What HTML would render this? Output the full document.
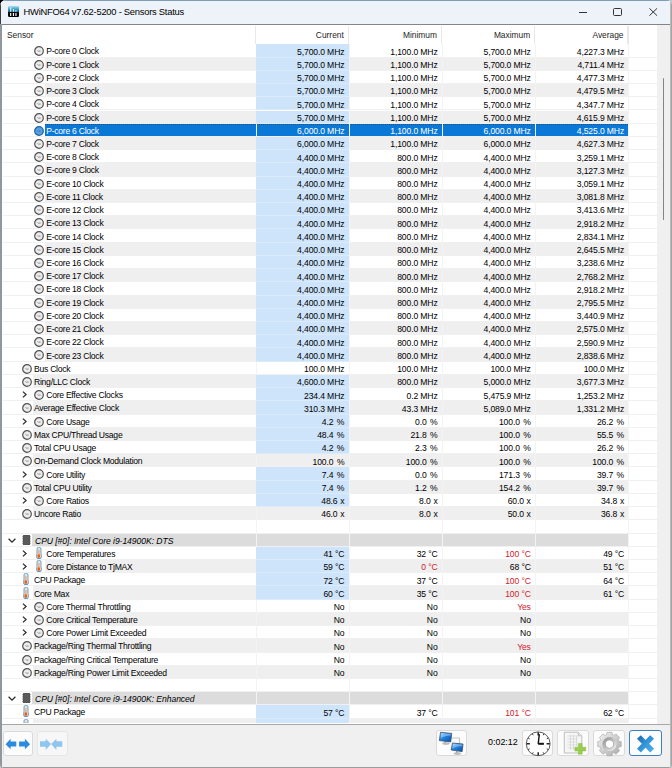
<!DOCTYPE html>
<html><head><meta charset="utf-8">
<style>
*{box-sizing:border-box}
html,body{margin:0;padding:0;width:672px;height:768px;overflow:hidden;background:#c4c4c4}
body{font-family:"Liberation Sans",sans-serif;color:#000;position:relative}
.a{position:absolute}
.win{position:absolute;left:0;top:0;width:672px;height:768px;background:#f0f0f0;border-radius:6px 5px 4px 4px;overflow:hidden}
.tb{position:absolute;left:0;top:0;width:672px;height:24px;background:#eef3f9;border-top:1px solid #7c9cb8}
.tt{position:absolute;left:23.6px;top:4.5px;font-size:9.4px;letter-spacing:-0.25px;line-height:14px;color:#000;white-space:nowrap}
.list{position:absolute;left:0;top:24px;width:672px;height:700.5px;background:#fff;border-top:1px solid #848484;border-bottom:1px solid #a8a8a8;overflow:hidden}
.hd{position:absolute;font-size:8.4px;line-height:12px;top:28.8px;white-space:nowrap;color:#1e1e1e}
.r{position:absolute;left:0;width:672px;height:13.225px}
.t{position:absolute;z-index:5;font-size:8.6px;letter-spacing:-0.26px;line-height:13px;white-space:nowrap;color:#000}
.v{position:absolute;z-index:5;font-size:8.6px;letter-spacing:-0.13px;line-height:13px;white-space:nowrap;text-align:right;color:#000}
.red{color:#d4202a}
.sel .t,.sel .v{color:#fff}
.gl{position:absolute;left:3px;width:654px;height:1px;background:#f0f0f0}
.r>.gl{z-index:0}
.vg{position:absolute;top:44.4px;width:1px;height:680px;background:#f3f3f3;z-index:1}
.sec .t{font-style:italic;color:#000;letter-spacing:-0.06px}
</style></head><body>
<svg width="0" height="0" style="position:absolute">
<defs>
<symbol id="clk" viewBox="0 0 10 10"><circle cx="5" cy="5" r="4.3" fill="#ececec" stroke="#505050" stroke-width="1.2"/><path d="M3.5 4.5L4.3 5.1H6.6" fill="none" stroke="#7a7a7a" stroke-width="0.8"/></symbol>
<symbol id="clks" viewBox="0 0 10 10"><circle cx="5" cy="5" r="4.3" fill="#5aa0e0" stroke="#1f5f9f" stroke-width="1.2"/><path d="M3.5 4.5L4.3 5.1H6.6" fill="none" stroke="#2a6aaa" stroke-width="0.8"/></symbol>
<symbol id="thm" viewBox="0 0 6 12"><rect x="1" y="0.45" width="4" height="8" rx="1.5" fill="#cdeaf6" stroke="#7692a8" stroke-width="0.9"/><rect x="0.45" y="6.8" width="5.1" height="4.75" rx="2" fill="#cdeaf6" stroke="#7692a8" stroke-width="0.9"/><rect x="1.45" y="6.3" width="3.1" height="2" fill="#cdeaf6"/><rect x="2.1" y="3.0" width="1.6" height="5.5" fill="#f2b486"/><ellipse cx="2.8" cy="9.1" rx="1.5" ry="1.8" fill="#fa5a08"/><path d="M1.4 11.45H4.6" stroke="#4a90d0" stroke-width="0.8"/></symbol>
<symbol id="chip" viewBox="0 0 9 10"><path d="M0 1.6H9M0 3.8H9M0 6.1H9M0 8.3H9" stroke="#8a8a8a" stroke-width="0.7"/><rect x="0.9" y="0" width="7.2" height="10" rx="0.8" fill="#505050"/><rect x="1.5" y="0.5" width="6" height="9" fill="#5a5a5a"/></symbol>
<symbol id="chr" viewBox="0 0 5 7"><path d="M0.9 0.6L4.1 3.5L0.9 6.4" fill="none" stroke="#2a2a2a" stroke-width="1.25"/></symbol>
<symbol id="chd" viewBox="0 0 8 5"><path d="M0.6 0.7L4 4.1L7.4 0.7" fill="none" stroke="#2a2a2a" stroke-width="1.25"/></symbol>
</defs></svg>
<div class="a" style="left:0;top:0;width:10px;height:10px;background:#000"></div>
<div class="win">

<div class="tb"></div>
<svg class="a" style="left:7.9px;top:6px" width="11.1" height="11" viewBox="0 0 11 11"><defs><linearGradient id="ig" x1="0" y1="0" x2="0" y2="1"><stop offset="0" stop-color="#b0dcec"/><stop offset="0.3" stop-color="#3a9ccc"/><stop offset="0.55" stop-color="#0f5f8f"/><stop offset="0.56" stop-color="#050505"/><stop offset="1" stop-color="#000"/></linearGradient></defs><rect x="0" y="0" width="11" height="11" rx="1.2" fill="url(#ig)"/><path d="M2.6 1.2V5.8M5.4 3V5.8M7.9 4V5.8" stroke="#d6f2ff" stroke-width="1.2"/><path d="M2.6 7V9.9M5.4 7V9.9M7.9 7V9.9" stroke="#f4f4f4" stroke-width="1.2"/></svg>
<div class="tt">HWiNFO64 v7.62-5200 - Sensors Status</div>
<div class="a" style="left:578.5px;top:11.6px;width:8.2px;height:1px;background:#333"></div>
<div class="a" style="left:613.2px;top:8.2px;width:8.4px;height:7.6px;border:1px solid #333;border-radius:1.5px"></div>
<svg class="a" style="left:649px;top:8px" width="8.5" height="8" viewBox="0 0 8.5 8"><path d="M0.4 0.3L8.1 7.7M8.1 0.3L0.4 7.7" stroke="#333" stroke-width="1"/></svg>
<div class="list"></div>
<div class="hd" style="left:7px">Sensor</div>
<div class="hd" style="left:255.5px;width:88.30px;text-align:right">Current</div>
<div class="hd" style="left:348.6px;width:88.40px;text-align:right">Minimum</div>
<div class="hd" style="left:441.8px;width:88.40px;text-align:right">Maximum</div>
<div class="hd" style="left:535.0px;width:88.50px;text-align:right">Average</div>
<div class="a" style="left:254.60px;top:26px;width:1.3px;height:18px;background:#e8e8e8"></div>
<div class="a" style="left:347.70px;top:26px;width:1.3px;height:18px;background:#e8e8e8"></div>
<div class="a" style="left:440.90px;top:26px;width:1.3px;height:18px;background:#e8e8e8"></div>
<div class="a" style="left:534.10px;top:26px;width:1.3px;height:18px;background:#e8e8e8"></div>
<div class="a" style="left:627.40px;top:26px;width:1.3px;height:18px;background:#e8e8e8"></div>
<div class="r" style="top:44.400px;height:13.220px;overflow:hidden">
<div class="a" style="left:256.0px;top:0;width:93.10px;height:13.220px;background:#cee4fa;z-index:2"></div>
<div class="a" style="left:256.0px;top:12.220px;width:93.10px;height:1px;background:#dcebfa;z-index:3"></div>
<svg class="a" style="left:34.0px;top:2.0px" width="10" height="10"><use href="#clk"/></svg>
<div class="t" style="left:46.2px;top:1.1px">P-core 0 Clock</div>
<div class="v" style="left:255.5px;width:88.90px;top:1.4px">5,700.0 MHz</div>
<div class="v" style="left:348.6px;width:89.00px;top:1.4px">1,100.0 MHz</div>
<div class="v" style="left:441.8px;width:89.00px;top:1.4px">5,700.0 MHz</div>
<div class="v" style="left:535.0px;width:89.10px;top:1.4px">4,227.3 MHz</div>
<div class="gl" style="top:12.220px"></div>
</div>
<div class="r" style="top:57.620px;height:13.220px;overflow:hidden">
<div class="a" style="left:45.2px;top:0;width:583.10px;height:13.220px;background:#efefef"></div>
<div class="a" style="left:256.0px;top:0;width:93.10px;height:13.220px;background:#cee4fa;z-index:2"></div>
<div class="a" style="left:256.0px;top:12.220px;width:93.10px;height:1px;background:#dcebfa;z-index:3"></div>
<svg class="a" style="left:34.0px;top:2.0px" width="10" height="10"><use href="#clk"/></svg>
<div class="t" style="left:46.2px;top:1.1px">P-core 1 Clock</div>
<div class="v" style="left:255.5px;width:88.90px;top:1.4px">5,700.0 MHz</div>
<div class="v" style="left:348.6px;width:89.00px;top:1.4px">1,100.0 MHz</div>
<div class="v" style="left:441.8px;width:89.00px;top:1.4px">5,700.0 MHz</div>
<div class="v" style="left:535.0px;width:89.10px;top:1.4px">4,711.4 MHz</div>
<div class="gl" style="top:12.220px"></div>
</div>
<div class="r" style="top:70.840px;height:13.220px;overflow:hidden">
<div class="a" style="left:256.0px;top:0;width:93.10px;height:13.220px;background:#cee4fa;z-index:2"></div>
<div class="a" style="left:256.0px;top:12.220px;width:93.10px;height:1px;background:#dcebfa;z-index:3"></div>
<svg class="a" style="left:34.0px;top:2.0px" width="10" height="10"><use href="#clk"/></svg>
<div class="t" style="left:46.2px;top:1.1px">P-core 2 Clock</div>
<div class="v" style="left:255.5px;width:88.90px;top:1.4px">5,700.0 MHz</div>
<div class="v" style="left:348.6px;width:89.00px;top:1.4px">1,100.0 MHz</div>
<div class="v" style="left:441.8px;width:89.00px;top:1.4px">5,700.0 MHz</div>
<div class="v" style="left:535.0px;width:89.10px;top:1.4px">4,477.3 MHz</div>
<div class="gl" style="top:12.220px"></div>
</div>
<div class="r" style="top:84.060px;height:13.220px;overflow:hidden">
<div class="a" style="left:45.2px;top:0;width:583.10px;height:13.220px;background:#efefef"></div>
<div class="a" style="left:256.0px;top:0;width:93.10px;height:13.220px;background:#cee4fa;z-index:2"></div>
<div class="a" style="left:256.0px;top:12.220px;width:93.10px;height:1px;background:#dcebfa;z-index:3"></div>
<svg class="a" style="left:34.0px;top:2.0px" width="10" height="10"><use href="#clk"/></svg>
<div class="t" style="left:46.2px;top:1.1px">P-core 3 Clock</div>
<div class="v" style="left:255.5px;width:88.90px;top:1.4px">5,700.0 MHz</div>
<div class="v" style="left:348.6px;width:89.00px;top:1.4px">1,100.0 MHz</div>
<div class="v" style="left:441.8px;width:89.00px;top:1.4px">5,700.0 MHz</div>
<div class="v" style="left:535.0px;width:89.10px;top:1.4px">4,479.5 MHz</div>
<div class="gl" style="top:12.220px"></div>
</div>
<div class="r" style="top:97.280px;height:13.220px;overflow:hidden">
<div class="a" style="left:256.0px;top:0;width:93.10px;height:13.220px;background:#cee4fa;z-index:2"></div>
<div class="a" style="left:256.0px;top:12.220px;width:93.10px;height:1px;background:#dcebfa;z-index:3"></div>
<svg class="a" style="left:34.0px;top:2.0px" width="10" height="10"><use href="#clk"/></svg>
<div class="t" style="left:46.2px;top:1.1px">P-core 4 Clock</div>
<div class="v" style="left:255.5px;width:88.90px;top:1.4px">5,700.0 MHz</div>
<div class="v" style="left:348.6px;width:89.00px;top:1.4px">1,100.0 MHz</div>
<div class="v" style="left:441.8px;width:89.00px;top:1.4px">5,700.0 MHz</div>
<div class="v" style="left:535.0px;width:89.10px;top:1.4px">4,347.7 MHz</div>
<div class="gl" style="top:12.220px"></div>
</div>
<div class="r" style="top:110.500px;height:13.220px;overflow:hidden">
<div class="a" style="left:45.2px;top:0;width:583.10px;height:13.220px;background:#efefef"></div>
<div class="a" style="left:256.0px;top:0;width:93.10px;height:13.220px;background:#cee4fa;z-index:2"></div>
<div class="a" style="left:256.0px;top:12.220px;width:93.10px;height:1px;background:#dcebfa;z-index:3"></div>
<svg class="a" style="left:34.0px;top:2.0px" width="10" height="10"><use href="#clk"/></svg>
<div class="t" style="left:46.2px;top:1.1px">P-core 5 Clock</div>
<div class="v" style="left:255.5px;width:88.90px;top:1.4px">5,700.0 MHz</div>
<div class="v" style="left:348.6px;width:89.00px;top:1.4px">1,100.0 MHz</div>
<div class="v" style="left:441.8px;width:89.00px;top:1.4px">5,700.0 MHz</div>
<div class="v" style="left:535.0px;width:89.10px;top:1.4px">4,615.9 MHz</div>
<div class="gl" style="top:12.220px"></div>
</div>
<div class="r sel" style="top:123.720px;height:13.220px;overflow:hidden">
<div class="a" style="left:45.2px;top:0;width:583.10px;height:12.220px;background:#0a78d6"></div>
<div class="a" style="left:45.2px;top:0;width:583.10px;height:1px;background:repeating-linear-gradient(90deg,#2a4e74 0 1px,#0a78d6 1px 2px)"></div>
<svg class="a" style="left:34.0px;top:2.0px" width="10" height="10"><use href="#clks"/></svg>
<div class="t" style="left:46.2px;top:1.1px">P-core 6 Clock</div>
<div class="v" style="left:255.5px;width:88.90px;top:1.4px">6,000.0 MHz</div>
<div class="v" style="left:348.6px;width:89.00px;top:1.4px">1,100.0 MHz</div>
<div class="v" style="left:441.8px;width:89.00px;top:1.4px">6,000.0 MHz</div>
<div class="v" style="left:535.0px;width:89.10px;top:1.4px">4,525.0 MHz</div>
<div class="gl" style="top:12.220px"></div>
</div>
<div class="r" style="top:136.940px;height:13.220px;overflow:hidden">
<div class="a" style="left:45.2px;top:0;width:583.10px;height:13.220px;background:#efefef"></div>
<div class="a" style="left:256.0px;top:0;width:93.10px;height:13.220px;background:#cee4fa;z-index:2"></div>
<div class="a" style="left:256.0px;top:12.220px;width:93.10px;height:1px;background:#dcebfa;z-index:3"></div>
<svg class="a" style="left:34.0px;top:2.0px" width="10" height="10"><use href="#clk"/></svg>
<div class="t" style="left:46.2px;top:1.1px">P-core 7 Clock</div>
<div class="v" style="left:255.5px;width:88.90px;top:1.4px">6,000.0 MHz</div>
<div class="v" style="left:348.6px;width:89.00px;top:1.4px">1,100.0 MHz</div>
<div class="v" style="left:441.8px;width:89.00px;top:1.4px">6,000.0 MHz</div>
<div class="v" style="left:535.0px;width:89.10px;top:1.4px">4,627.3 MHz</div>
<div class="gl" style="top:12.220px"></div>
</div>
<div class="r" style="top:150.160px;height:13.220px;overflow:hidden">
<div class="a" style="left:256.0px;top:0;width:93.10px;height:13.220px;background:#cee4fa;z-index:2"></div>
<div class="a" style="left:256.0px;top:12.220px;width:93.10px;height:1px;background:#dcebfa;z-index:3"></div>
<svg class="a" style="left:34.0px;top:2.0px" width="10" height="10"><use href="#clk"/></svg>
<div class="t" style="left:46.2px;top:1.1px">E-core 8 Clock</div>
<div class="v" style="left:255.5px;width:88.90px;top:1.4px">4,400.0 MHz</div>
<div class="v" style="left:348.6px;width:89.00px;top:1.4px">800.0 MHz</div>
<div class="v" style="left:441.8px;width:89.00px;top:1.4px">4,400.0 MHz</div>
<div class="v" style="left:535.0px;width:89.10px;top:1.4px">3,259.1 MHz</div>
<div class="gl" style="top:12.220px"></div>
</div>
<div class="r" style="top:163.380px;height:13.220px;overflow:hidden">
<div class="a" style="left:45.2px;top:0;width:583.10px;height:13.220px;background:#efefef"></div>
<div class="a" style="left:256.0px;top:0;width:93.10px;height:13.220px;background:#cee4fa;z-index:2"></div>
<div class="a" style="left:256.0px;top:12.220px;width:93.10px;height:1px;background:#dcebfa;z-index:3"></div>
<svg class="a" style="left:34.0px;top:2.0px" width="10" height="10"><use href="#clk"/></svg>
<div class="t" style="left:46.2px;top:1.1px">E-core 9 Clock</div>
<div class="v" style="left:255.5px;width:88.90px;top:1.4px">4,400.0 MHz</div>
<div class="v" style="left:348.6px;width:89.00px;top:1.4px">800.0 MHz</div>
<div class="v" style="left:441.8px;width:89.00px;top:1.4px">4,400.0 MHz</div>
<div class="v" style="left:535.0px;width:89.10px;top:1.4px">3,127.3 MHz</div>
<div class="gl" style="top:12.220px"></div>
</div>
<div class="r" style="top:176.600px;height:13.220px;overflow:hidden">
<div class="a" style="left:256.0px;top:0;width:93.10px;height:13.220px;background:#cee4fa;z-index:2"></div>
<div class="a" style="left:256.0px;top:12.220px;width:93.10px;height:1px;background:#dcebfa;z-index:3"></div>
<svg class="a" style="left:34.0px;top:2.0px" width="10" height="10"><use href="#clk"/></svg>
<div class="t" style="left:46.2px;top:1.1px">E-core 10 Clock</div>
<div class="v" style="left:255.5px;width:88.90px;top:1.4px">4,400.0 MHz</div>
<div class="v" style="left:348.6px;width:89.00px;top:1.4px">800.0 MHz</div>
<div class="v" style="left:441.8px;width:89.00px;top:1.4px">4,400.0 MHz</div>
<div class="v" style="left:535.0px;width:89.10px;top:1.4px">3,059.1 MHz</div>
<div class="gl" style="top:12.220px"></div>
</div>
<div class="r" style="top:189.820px;height:13.220px;overflow:hidden">
<div class="a" style="left:45.2px;top:0;width:583.10px;height:13.220px;background:#efefef"></div>
<div class="a" style="left:256.0px;top:0;width:93.10px;height:13.220px;background:#cee4fa;z-index:2"></div>
<div class="a" style="left:256.0px;top:12.220px;width:93.10px;height:1px;background:#dcebfa;z-index:3"></div>
<svg class="a" style="left:34.0px;top:2.0px" width="10" height="10"><use href="#clk"/></svg>
<div class="t" style="left:46.2px;top:1.1px">E-core 11 Clock</div>
<div class="v" style="left:255.5px;width:88.90px;top:1.4px">4,400.0 MHz</div>
<div class="v" style="left:348.6px;width:89.00px;top:1.4px">800.0 MHz</div>
<div class="v" style="left:441.8px;width:89.00px;top:1.4px">4,400.0 MHz</div>
<div class="v" style="left:535.0px;width:89.10px;top:1.4px">3,081.8 MHz</div>
<div class="gl" style="top:12.220px"></div>
</div>
<div class="r" style="top:203.040px;height:13.220px;overflow:hidden">
<div class="a" style="left:256.0px;top:0;width:93.10px;height:13.220px;background:#cee4fa;z-index:2"></div>
<div class="a" style="left:256.0px;top:12.220px;width:93.10px;height:1px;background:#dcebfa;z-index:3"></div>
<svg class="a" style="left:34.0px;top:2.0px" width="10" height="10"><use href="#clk"/></svg>
<div class="t" style="left:46.2px;top:1.1px">E-core 12 Clock</div>
<div class="v" style="left:255.5px;width:88.90px;top:1.4px">4,400.0 MHz</div>
<div class="v" style="left:348.6px;width:89.00px;top:1.4px">800.0 MHz</div>
<div class="v" style="left:441.8px;width:89.00px;top:1.4px">4,400.0 MHz</div>
<div class="v" style="left:535.0px;width:89.10px;top:1.4px">3,413.6 MHz</div>
<div class="gl" style="top:12.220px"></div>
</div>
<div class="r" style="top:216.260px;height:13.220px;overflow:hidden">
<div class="a" style="left:45.2px;top:0;width:583.10px;height:13.220px;background:#efefef"></div>
<div class="a" style="left:256.0px;top:0;width:93.10px;height:13.220px;background:#cee4fa;z-index:2"></div>
<div class="a" style="left:256.0px;top:12.220px;width:93.10px;height:1px;background:#dcebfa;z-index:3"></div>
<svg class="a" style="left:34.0px;top:2.0px" width="10" height="10"><use href="#clk"/></svg>
<div class="t" style="left:46.2px;top:1.1px">E-core 13 Clock</div>
<div class="v" style="left:255.5px;width:88.90px;top:1.4px">4,400.0 MHz</div>
<div class="v" style="left:348.6px;width:89.00px;top:1.4px">800.0 MHz</div>
<div class="v" style="left:441.8px;width:89.00px;top:1.4px">4,400.0 MHz</div>
<div class="v" style="left:535.0px;width:89.10px;top:1.4px">2,918.2 MHz</div>
<div class="gl" style="top:12.220px"></div>
</div>
<div class="r" style="top:229.480px;height:13.220px;overflow:hidden">
<div class="a" style="left:256.0px;top:0;width:93.10px;height:13.220px;background:#cee4fa;z-index:2"></div>
<div class="a" style="left:256.0px;top:12.220px;width:93.10px;height:1px;background:#dcebfa;z-index:3"></div>
<svg class="a" style="left:34.0px;top:2.0px" width="10" height="10"><use href="#clk"/></svg>
<div class="t" style="left:46.2px;top:1.1px">E-core 14 Clock</div>
<div class="v" style="left:255.5px;width:88.90px;top:1.4px">4,400.0 MHz</div>
<div class="v" style="left:348.6px;width:89.00px;top:1.4px">800.0 MHz</div>
<div class="v" style="left:441.8px;width:89.00px;top:1.4px">4,400.0 MHz</div>
<div class="v" style="left:535.0px;width:89.10px;top:1.4px">2,834.1 MHz</div>
<div class="gl" style="top:12.220px"></div>
</div>
<div class="r" style="top:242.700px;height:13.220px;overflow:hidden">
<div class="a" style="left:45.2px;top:0;width:583.10px;height:13.220px;background:#efefef"></div>
<div class="a" style="left:256.0px;top:0;width:93.10px;height:13.220px;background:#cee4fa;z-index:2"></div>
<div class="a" style="left:256.0px;top:12.220px;width:93.10px;height:1px;background:#dcebfa;z-index:3"></div>
<svg class="a" style="left:34.0px;top:2.0px" width="10" height="10"><use href="#clk"/></svg>
<div class="t" style="left:46.2px;top:1.1px">E-core 15 Clock</div>
<div class="v" style="left:255.5px;width:88.90px;top:1.4px">4,400.0 MHz</div>
<div class="v" style="left:348.6px;width:89.00px;top:1.4px">800.0 MHz</div>
<div class="v" style="left:441.8px;width:89.00px;top:1.4px">4,400.0 MHz</div>
<div class="v" style="left:535.0px;width:89.10px;top:1.4px">2,645.5 MHz</div>
<div class="gl" style="top:12.220px"></div>
</div>
<div class="r" style="top:255.920px;height:13.220px;overflow:hidden">
<div class="a" style="left:256.0px;top:0;width:93.10px;height:13.220px;background:#cee4fa;z-index:2"></div>
<div class="a" style="left:256.0px;top:12.220px;width:93.10px;height:1px;background:#dcebfa;z-index:3"></div>
<svg class="a" style="left:34.0px;top:2.0px" width="10" height="10"><use href="#clk"/></svg>
<div class="t" style="left:46.2px;top:1.1px">E-core 16 Clock</div>
<div class="v" style="left:255.5px;width:88.90px;top:1.4px">4,400.0 MHz</div>
<div class="v" style="left:348.6px;width:89.00px;top:1.4px">800.0 MHz</div>
<div class="v" style="left:441.8px;width:89.00px;top:1.4px">4,400.0 MHz</div>
<div class="v" style="left:535.0px;width:89.10px;top:1.4px">3,238.6 MHz</div>
<div class="gl" style="top:12.220px"></div>
</div>
<div class="r" style="top:269.140px;height:13.220px;overflow:hidden">
<div class="a" style="left:45.2px;top:0;width:583.10px;height:13.220px;background:#efefef"></div>
<div class="a" style="left:256.0px;top:0;width:93.10px;height:13.220px;background:#cee4fa;z-index:2"></div>
<div class="a" style="left:256.0px;top:12.220px;width:93.10px;height:1px;background:#dcebfa;z-index:3"></div>
<svg class="a" style="left:34.0px;top:2.0px" width="10" height="10"><use href="#clk"/></svg>
<div class="t" style="left:46.2px;top:1.1px">E-core 17 Clock</div>
<div class="v" style="left:255.5px;width:88.90px;top:1.4px">4,400.0 MHz</div>
<div class="v" style="left:348.6px;width:89.00px;top:1.4px">800.0 MHz</div>
<div class="v" style="left:441.8px;width:89.00px;top:1.4px">4,400.0 MHz</div>
<div class="v" style="left:535.0px;width:89.10px;top:1.4px">2,768.2 MHz</div>
<div class="gl" style="top:12.220px"></div>
</div>
<div class="r" style="top:282.360px;height:13.220px;overflow:hidden">
<div class="a" style="left:256.0px;top:0;width:93.10px;height:13.220px;background:#cee4fa;z-index:2"></div>
<div class="a" style="left:256.0px;top:12.220px;width:93.10px;height:1px;background:#dcebfa;z-index:3"></div>
<svg class="a" style="left:34.0px;top:2.0px" width="10" height="10"><use href="#clk"/></svg>
<div class="t" style="left:46.2px;top:1.1px">E-core 18 Clock</div>
<div class="v" style="left:255.5px;width:88.90px;top:1.4px">4,400.0 MHz</div>
<div class="v" style="left:348.6px;width:89.00px;top:1.4px">800.0 MHz</div>
<div class="v" style="left:441.8px;width:89.00px;top:1.4px">4,400.0 MHz</div>
<div class="v" style="left:535.0px;width:89.10px;top:1.4px">2,918.2 MHz</div>
<div class="gl" style="top:12.220px"></div>
</div>
<div class="r" style="top:295.580px;height:13.220px;overflow:hidden">
<div class="a" style="left:45.2px;top:0;width:583.10px;height:13.220px;background:#efefef"></div>
<div class="a" style="left:256.0px;top:0;width:93.10px;height:13.220px;background:#cee4fa;z-index:2"></div>
<div class="a" style="left:256.0px;top:12.220px;width:93.10px;height:1px;background:#dcebfa;z-index:3"></div>
<svg class="a" style="left:34.0px;top:2.0px" width="10" height="10"><use href="#clk"/></svg>
<div class="t" style="left:46.2px;top:1.1px">E-core 19 Clock</div>
<div class="v" style="left:255.5px;width:88.90px;top:1.4px">4,400.0 MHz</div>
<div class="v" style="left:348.6px;width:89.00px;top:1.4px">800.0 MHz</div>
<div class="v" style="left:441.8px;width:89.00px;top:1.4px">4,400.0 MHz</div>
<div class="v" style="left:535.0px;width:89.10px;top:1.4px">2,795.5 MHz</div>
<div class="gl" style="top:12.220px"></div>
</div>
<div class="r" style="top:308.800px;height:13.220px;overflow:hidden">
<div class="a" style="left:256.0px;top:0;width:93.10px;height:13.220px;background:#cee4fa;z-index:2"></div>
<div class="a" style="left:256.0px;top:12.220px;width:93.10px;height:1px;background:#dcebfa;z-index:3"></div>
<svg class="a" style="left:34.0px;top:2.0px" width="10" height="10"><use href="#clk"/></svg>
<div class="t" style="left:46.2px;top:1.1px">E-core 20 Clock</div>
<div class="v" style="left:255.5px;width:88.90px;top:1.4px">4,400.0 MHz</div>
<div class="v" style="left:348.6px;width:89.00px;top:1.4px">800.0 MHz</div>
<div class="v" style="left:441.8px;width:89.00px;top:1.4px">4,400.0 MHz</div>
<div class="v" style="left:535.0px;width:89.10px;top:1.4px">3,440.9 MHz</div>
<div class="gl" style="top:12.220px"></div>
</div>
<div class="r" style="top:322.020px;height:13.220px;overflow:hidden">
<div class="a" style="left:45.2px;top:0;width:583.10px;height:13.220px;background:#efefef"></div>
<div class="a" style="left:256.0px;top:0;width:93.10px;height:13.220px;background:#cee4fa;z-index:2"></div>
<div class="a" style="left:256.0px;top:12.220px;width:93.10px;height:1px;background:#dcebfa;z-index:3"></div>
<svg class="a" style="left:34.0px;top:2.0px" width="10" height="10"><use href="#clk"/></svg>
<div class="t" style="left:46.2px;top:1.1px">E-core 21 Clock</div>
<div class="v" style="left:255.5px;width:88.90px;top:1.4px">4,400.0 MHz</div>
<div class="v" style="left:348.6px;width:89.00px;top:1.4px">800.0 MHz</div>
<div class="v" style="left:441.8px;width:89.00px;top:1.4px">4,400.0 MHz</div>
<div class="v" style="left:535.0px;width:89.10px;top:1.4px">2,575.0 MHz</div>
<div class="gl" style="top:12.220px"></div>
</div>
<div class="r" style="top:335.240px;height:13.220px;overflow:hidden">
<div class="a" style="left:256.0px;top:0;width:93.10px;height:13.220px;background:#cee4fa;z-index:2"></div>
<div class="a" style="left:256.0px;top:12.220px;width:93.10px;height:1px;background:#dcebfa;z-index:3"></div>
<svg class="a" style="left:34.0px;top:2.0px" width="10" height="10"><use href="#clk"/></svg>
<div class="t" style="left:46.2px;top:1.1px">E-core 22 Clock</div>
<div class="v" style="left:255.5px;width:88.90px;top:1.4px">4,400.0 MHz</div>
<div class="v" style="left:348.6px;width:89.00px;top:1.4px">800.0 MHz</div>
<div class="v" style="left:441.8px;width:89.00px;top:1.4px">4,400.0 MHz</div>
<div class="v" style="left:535.0px;width:89.10px;top:1.4px">2,590.9 MHz</div>
<div class="gl" style="top:12.220px"></div>
</div>
<div class="r" style="top:348.460px;height:13.220px;overflow:hidden">
<div class="a" style="left:45.2px;top:0;width:583.10px;height:13.220px;background:#efefef"></div>
<div class="a" style="left:256.0px;top:0;width:93.10px;height:13.220px;background:#cee4fa;z-index:2"></div>
<div class="a" style="left:256.0px;top:12.220px;width:93.10px;height:1px;background:#dcebfa;z-index:3"></div>
<svg class="a" style="left:34.0px;top:2.0px" width="10" height="10"><use href="#clk"/></svg>
<div class="t" style="left:46.2px;top:1.1px">E-core 23 Clock</div>
<div class="v" style="left:255.5px;width:88.90px;top:1.4px">4,400.0 MHz</div>
<div class="v" style="left:348.6px;width:89.00px;top:1.4px">800.0 MHz</div>
<div class="v" style="left:441.8px;width:89.00px;top:1.4px">4,400.0 MHz</div>
<div class="v" style="left:535.0px;width:89.10px;top:1.4px">2,838.6 MHz</div>
<div class="gl" style="top:12.220px"></div>
</div>
<div class="r" style="top:361.680px;height:13.220px;overflow:hidden">
<svg class="a" style="left:22.0px;top:2.0px" width="10" height="10"><use href="#clk"/></svg>
<div class="t" style="left:34.0px;top:1.1px">Bus Clock</div>
<div class="v" style="left:255.5px;width:88.90px;top:1.4px">100.0 MHz</div>
<div class="v" style="left:348.6px;width:89.00px;top:1.4px">100.0 MHz</div>
<div class="v" style="left:441.8px;width:89.00px;top:1.4px">100.0 MHz</div>
<div class="v" style="left:535.0px;width:89.10px;top:1.4px">100.0 MHz</div>
<div class="gl" style="top:12.220px"></div>
</div>
<div class="r" style="top:374.900px;height:13.220px;overflow:hidden">
<div class="a" style="left:32.5px;top:0;width:595.80px;height:13.220px;background:#efefef"></div>
<div class="a" style="left:256.0px;top:0;width:93.10px;height:13.220px;background:#cee4fa;z-index:2"></div>
<div class="a" style="left:256.0px;top:12.220px;width:93.10px;height:1px;background:#dcebfa;z-index:3"></div>
<svg class="a" style="left:22.0px;top:2.0px" width="10" height="10"><use href="#clk"/></svg>
<div class="t" style="left:34.0px;top:1.1px">Ring/LLC Clock</div>
<div class="v" style="left:255.5px;width:88.90px;top:1.4px">4,600.0 MHz</div>
<div class="v" style="left:348.6px;width:89.00px;top:1.4px">800.0 MHz</div>
<div class="v" style="left:441.8px;width:89.00px;top:1.4px">5,000.0 MHz</div>
<div class="v" style="left:535.0px;width:89.10px;top:1.4px">3,677.3 MHz</div>
<div class="gl" style="top:12.220px"></div>
</div>
<div class="r" style="top:388.120px;height:13.220px;overflow:hidden">
<div class="a" style="left:256.0px;top:0;width:93.10px;height:13.220px;background:#cee4fa;z-index:2"></div>
<div class="a" style="left:256.0px;top:12.220px;width:93.10px;height:1px;background:#dcebfa;z-index:3"></div>
<svg class="a" style="left:21.6px;top:3.2px" width="5" height="7"><use href="#chr"/></svg>
<svg class="a" style="left:34.0px;top:2.0px" width="10" height="10"><use href="#clk"/></svg>
<div class="t" style="left:46.2px;top:1.1px">Core Effective Clocks</div>
<div class="v" style="left:255.5px;width:88.90px;top:1.4px">234.4 MHz</div>
<div class="v" style="left:348.6px;width:89.00px;top:1.4px">0.2 MHz</div>
<div class="v" style="left:441.8px;width:89.00px;top:1.4px">5,475.9 MHz</div>
<div class="v" style="left:535.0px;width:89.10px;top:1.4px">1,253.2 MHz</div>
<div class="gl" style="top:12.220px"></div>
</div>
<div class="r" style="top:401.340px;height:13.220px;overflow:hidden">
<div class="a" style="left:32.5px;top:0;width:595.80px;height:13.220px;background:#efefef"></div>
<div class="a" style="left:256.0px;top:0;width:93.10px;height:13.220px;background:#cee4fa;z-index:2"></div>
<div class="a" style="left:256.0px;top:12.220px;width:93.10px;height:1px;background:#dcebfa;z-index:3"></div>
<svg class="a" style="left:22.0px;top:2.0px" width="10" height="10"><use href="#clk"/></svg>
<div class="t" style="left:34.0px;top:1.1px">Average Effective Clock</div>
<div class="v" style="left:255.5px;width:88.90px;top:1.4px">310.3 MHz</div>
<div class="v" style="left:348.6px;width:89.00px;top:1.4px">43.3 MHz</div>
<div class="v" style="left:441.8px;width:89.00px;top:1.4px">5,089.0 MHz</div>
<div class="v" style="left:535.0px;width:89.10px;top:1.4px">1,331.2 MHz</div>
<div class="gl" style="top:12.220px"></div>
</div>
<div class="r" style="top:414.560px;height:13.220px;overflow:hidden">
<div class="a" style="left:256.0px;top:0;width:93.10px;height:13.220px;background:#cee4fa;z-index:2"></div>
<div class="a" style="left:256.0px;top:12.220px;width:93.10px;height:1px;background:#dcebfa;z-index:3"></div>
<svg class="a" style="left:21.6px;top:3.2px" width="5" height="7"><use href="#chr"/></svg>
<svg class="a" style="left:34.0px;top:2.0px" width="10" height="10"><use href="#clk"/></svg>
<div class="t" style="left:46.2px;top:1.1px">Core Usage</div>
<div class="v" style="left:255.5px;width:88.90px;top:1.4px;word-spacing:1.2px">4.2 %</div>
<div class="v" style="left:348.6px;width:89.00px;top:1.4px;word-spacing:1.2px">0.0 %</div>
<div class="v" style="left:441.8px;width:89.00px;top:1.4px;word-spacing:1.2px">100.0 %</div>
<div class="v" style="left:535.0px;width:89.10px;top:1.4px;word-spacing:1.2px">26.2 %</div>
<div class="gl" style="top:12.220px"></div>
</div>
<div class="r" style="top:427.780px;height:13.220px;overflow:hidden">
<div class="a" style="left:32.5px;top:0;width:595.80px;height:13.220px;background:#efefef"></div>
<div class="a" style="left:256.0px;top:0;width:93.10px;height:13.220px;background:#cee4fa;z-index:2"></div>
<div class="a" style="left:256.0px;top:12.220px;width:93.10px;height:1px;background:#dcebfa;z-index:3"></div>
<svg class="a" style="left:22.0px;top:2.0px" width="10" height="10"><use href="#clk"/></svg>
<div class="t" style="left:34.0px;top:1.1px">Max CPU/Thread Usage</div>
<div class="v" style="left:255.5px;width:88.90px;top:1.4px;word-spacing:1.2px">48.4 %</div>
<div class="v" style="left:348.6px;width:89.00px;top:1.4px;word-spacing:1.2px">21.8 %</div>
<div class="v" style="left:441.8px;width:89.00px;top:1.4px;word-spacing:1.2px">100.0 %</div>
<div class="v" style="left:535.0px;width:89.10px;top:1.4px;word-spacing:1.2px">55.5 %</div>
<div class="gl" style="top:12.220px"></div>
</div>
<div class="r" style="top:441.000px;height:13.220px;overflow:hidden">
<div class="a" style="left:256.0px;top:0;width:93.10px;height:13.220px;background:#cee4fa;z-index:2"></div>
<div class="a" style="left:256.0px;top:12.220px;width:93.10px;height:1px;background:#dcebfa;z-index:3"></div>
<svg class="a" style="left:22.0px;top:2.0px" width="10" height="10"><use href="#clk"/></svg>
<div class="t" style="left:34.0px;top:1.1px">Total CPU Usage</div>
<div class="v" style="left:255.5px;width:88.90px;top:1.4px;word-spacing:1.2px">4.2 %</div>
<div class="v" style="left:348.6px;width:89.00px;top:1.4px;word-spacing:1.2px">2.3 %</div>
<div class="v" style="left:441.8px;width:89.00px;top:1.4px;word-spacing:1.2px">100.0 %</div>
<div class="v" style="left:535.0px;width:89.10px;top:1.4px;word-spacing:1.2px">26.2 %</div>
<div class="gl" style="top:12.220px"></div>
</div>
<div class="r" style="top:454.220px;height:13.220px;overflow:hidden">
<div class="a" style="left:32.5px;top:0;width:595.80px;height:13.220px;background:#efefef"></div>
<svg class="a" style="left:22.0px;top:2.0px" width="10" height="10"><use href="#clk"/></svg>
<div class="t" style="left:34.0px;top:1.1px">On-Demand Clock Modulation</div>
<div class="v" style="left:255.5px;width:88.90px;top:1.4px;word-spacing:1.2px">100.0 %</div>
<div class="v" style="left:348.6px;width:89.00px;top:1.4px;word-spacing:1.2px">100.0 %</div>
<div class="v" style="left:441.8px;width:89.00px;top:1.4px;word-spacing:1.2px">100.0 %</div>
<div class="v" style="left:535.0px;width:89.10px;top:1.4px;word-spacing:1.2px">100.0 %</div>
<div class="gl" style="top:12.220px"></div>
</div>
<div class="r" style="top:467.440px;height:13.220px;overflow:hidden">
<div class="a" style="left:256.0px;top:0;width:93.10px;height:13.220px;background:#cee4fa;z-index:2"></div>
<div class="a" style="left:256.0px;top:12.220px;width:93.10px;height:1px;background:#dcebfa;z-index:3"></div>
<svg class="a" style="left:21.6px;top:3.2px" width="5" height="7"><use href="#chr"/></svg>
<svg class="a" style="left:34.0px;top:2.0px" width="10" height="10"><use href="#clk"/></svg>
<div class="t" style="left:46.2px;top:1.1px">Core Utility</div>
<div class="v" style="left:255.5px;width:88.90px;top:1.4px;word-spacing:1.2px">7.4 %</div>
<div class="v" style="left:348.6px;width:89.00px;top:1.4px;word-spacing:1.2px">0.0 %</div>
<div class="v" style="left:441.8px;width:89.00px;top:1.4px;word-spacing:1.2px">171.3 %</div>
<div class="v" style="left:535.0px;width:89.10px;top:1.4px;word-spacing:1.2px">39.7 %</div>
<div class="gl" style="top:12.220px"></div>
</div>
<div class="r" style="top:480.660px;height:13.220px;overflow:hidden">
<div class="a" style="left:32.5px;top:0;width:595.80px;height:13.220px;background:#efefef"></div>
<div class="a" style="left:256.0px;top:0;width:93.10px;height:13.220px;background:#cee4fa;z-index:2"></div>
<div class="a" style="left:256.0px;top:12.220px;width:93.10px;height:1px;background:#dcebfa;z-index:3"></div>
<svg class="a" style="left:22.0px;top:2.0px" width="10" height="10"><use href="#clk"/></svg>
<div class="t" style="left:34.0px;top:1.1px">Total CPU Utility</div>
<div class="v" style="left:255.5px;width:88.90px;top:1.4px;word-spacing:1.2px">7.4 %</div>
<div class="v" style="left:348.6px;width:89.00px;top:1.4px;word-spacing:1.2px">1.2 %</div>
<div class="v" style="left:441.8px;width:89.00px;top:1.4px;word-spacing:1.2px">154.2 %</div>
<div class="v" style="left:535.0px;width:89.10px;top:1.4px;word-spacing:1.2px">39.7 %</div>
<div class="gl" style="top:12.220px"></div>
</div>
<div class="r" style="top:493.880px;height:13.220px;overflow:hidden">
<div class="a" style="left:256.0px;top:0;width:93.10px;height:13.220px;background:#cee4fa;z-index:2"></div>
<div class="a" style="left:256.0px;top:12.220px;width:93.10px;height:1px;background:#dcebfa;z-index:3"></div>
<svg class="a" style="left:21.6px;top:3.2px" width="5" height="7"><use href="#chr"/></svg>
<svg class="a" style="left:34.0px;top:2.0px" width="10" height="10"><use href="#clk"/></svg>
<div class="t" style="left:46.2px;top:1.1px">Core Ratios</div>
<div class="v" style="left:255.5px;width:88.90px;top:1.4px;word-spacing:0.5px">48.6 x</div>
<div class="v" style="left:348.6px;width:89.00px;top:1.4px;word-spacing:0.5px">8.0 x</div>
<div class="v" style="left:441.8px;width:89.00px;top:1.4px;word-spacing:0.5px">60.0 x</div>
<div class="v" style="left:535.0px;width:89.10px;top:1.4px;word-spacing:0.5px">34.8 x</div>
<div class="gl" style="top:12.220px"></div>
</div>
<div class="r" style="top:507.100px;height:13.220px;overflow:hidden">
<div class="a" style="left:32.5px;top:0;width:595.80px;height:13.220px;background:#efefef"></div>
<svg class="a" style="left:22.0px;top:2.0px" width="10" height="10"><use href="#clk"/></svg>
<div class="t" style="left:34.0px;top:1.1px">Uncore Ratio</div>
<div class="v" style="left:255.5px;width:88.90px;top:1.4px;word-spacing:0.5px">46.0 x</div>
<div class="v" style="left:348.6px;width:89.00px;top:1.4px;word-spacing:0.5px">8.0 x</div>
<div class="v" style="left:441.8px;width:89.00px;top:1.4px;word-spacing:0.5px">50.0 x</div>
<div class="v" style="left:535.0px;width:89.10px;top:1.4px;word-spacing:0.5px">36.8 x</div>
<div class="gl" style="top:12.220px"></div>
</div>
<div class="r" style="top:520.320px;height:13.220px;overflow:hidden">
<div class="gl" style="top:12.220px"></div>
</div>
<div class="r sec" style="top:533.540px;height:13.220px;overflow:hidden">
<div class="a" style="left:32px;top:0;width:596.30px;height:13.220px;background:#dcdcdc"></div>
<svg class="a" style="left:8.0px;top:4.0px" width="8" height="5"><use href="#chd"/></svg>
<svg class="a" style="left:22.2px;top:1.0px" width="9" height="10.2"><use href="#chip"/></svg>
<div class="t" style="left:35px;top:1.1px">CPU [#0]: Intel Core i9-14900K: DTS</div>
<div class="gl" style="top:12.220px"></div>
</div>
<div class="r" style="top:546.760px;height:13.220px;overflow:hidden">
<div class="a" style="left:256.0px;top:0;width:93.10px;height:13.220px;background:#cee4fa;z-index:2"></div>
<div class="a" style="left:256.0px;top:12.220px;width:93.10px;height:1px;background:#dcebfa;z-index:3"></div>
<svg class="a" style="left:21.6px;top:3.2px" width="5" height="7"><use href="#chr"/></svg>
<svg class="a" style="left:35.6px;top:0.1px" width="6" height="12"><use href="#thm"/></svg>
<div class="t" style="left:46.2px;top:1.1px">Core Temperatures</div>
<div class="v" style="left:255.5px;width:88.90px;top:1.4px">41 °C</div>
<div class="v" style="left:348.6px;width:89.00px;top:1.4px">32 °C</div>
<div class="v red" style="left:441.8px;width:89.00px;top:1.4px">100 °C</div>
<div class="v" style="left:535.0px;width:89.10px;top:1.4px">49 °C</div>
<div class="gl" style="top:12.220px"></div>
</div>
<div class="r" style="top:559.980px;height:13.220px;overflow:hidden">
<div class="a" style="left:45.2px;top:0;width:583.10px;height:13.220px;background:#efefef"></div>
<div class="a" style="left:256.0px;top:0;width:93.10px;height:13.220px;background:#cee4fa;z-index:2"></div>
<div class="a" style="left:256.0px;top:12.220px;width:93.10px;height:1px;background:#dcebfa;z-index:3"></div>
<svg class="a" style="left:21.6px;top:3.2px" width="5" height="7"><use href="#chr"/></svg>
<svg class="a" style="left:35.6px;top:0.1px" width="6" height="12"><use href="#thm"/></svg>
<div class="t" style="left:46.2px;top:1.1px">Core Distance to TjMAX</div>
<div class="v" style="left:255.5px;width:88.90px;top:1.4px">59 °C</div>
<div class="v red" style="left:348.6px;width:89.00px;top:1.4px">0 °C</div>
<div class="v" style="left:441.8px;width:89.00px;top:1.4px">68 °C</div>
<div class="v" style="left:535.0px;width:89.10px;top:1.4px">51 °C</div>
<div class="gl" style="top:12.220px"></div>
</div>
<div class="r" style="top:573.200px;height:13.220px;overflow:hidden">
<div class="a" style="left:256.0px;top:0;width:93.10px;height:13.220px;background:#cee4fa;z-index:2"></div>
<div class="a" style="left:256.0px;top:12.220px;width:93.10px;height:1px;background:#dcebfa;z-index:3"></div>
<svg class="a" style="left:23.0px;top:0.1px" width="6" height="12"><use href="#thm"/></svg>
<div class="t" style="left:34.0px;top:1.1px">CPU Package</div>
<div class="v" style="left:255.5px;width:88.90px;top:1.4px">72 °C</div>
<div class="v" style="left:348.6px;width:89.00px;top:1.4px">37 °C</div>
<div class="v red" style="left:441.8px;width:89.00px;top:1.4px">100 °C</div>
<div class="v" style="left:535.0px;width:89.10px;top:1.4px">64 °C</div>
<div class="gl" style="top:12.220px"></div>
</div>
<div class="r" style="top:586.420px;height:13.220px;overflow:hidden">
<div class="a" style="left:32.5px;top:0;width:595.80px;height:13.220px;background:#efefef"></div>
<div class="a" style="left:256.0px;top:0;width:93.10px;height:13.220px;background:#cee4fa;z-index:2"></div>
<div class="a" style="left:256.0px;top:12.220px;width:93.10px;height:1px;background:#dcebfa;z-index:3"></div>
<svg class="a" style="left:23.0px;top:0.1px" width="6" height="12"><use href="#thm"/></svg>
<div class="t" style="left:34.0px;top:1.1px">Core Max</div>
<div class="v" style="left:255.5px;width:88.90px;top:1.4px">60 °C</div>
<div class="v" style="left:348.6px;width:89.00px;top:1.4px">35 °C</div>
<div class="v red" style="left:441.8px;width:89.00px;top:1.4px">100 °C</div>
<div class="v" style="left:535.0px;width:89.10px;top:1.4px">61 °C</div>
<div class="gl" style="top:12.220px"></div>
</div>
<div class="r" style="top:599.640px;height:13.220px;overflow:hidden">
<svg class="a" style="left:21.6px;top:3.2px" width="5" height="7"><use href="#chr"/></svg>
<svg class="a" style="left:34.0px;top:2.0px" width="10" height="10"><use href="#clk"/></svg>
<div class="t" style="left:46.2px;top:1.1px">Core Thermal Throttling</div>
<div class="v" style="left:255.5px;width:88.90px;top:1.4px">No</div>
<div class="v" style="left:348.6px;width:89.00px;top:1.4px">No</div>
<div class="v red" style="left:441.8px;width:89.00px;top:1.4px">Yes</div>
<div class="gl" style="top:12.220px"></div>
</div>
<div class="r" style="top:612.860px;height:13.220px;overflow:hidden">
<div class="a" style="left:45.2px;top:0;width:583.10px;height:13.220px;background:#efefef"></div>
<svg class="a" style="left:21.6px;top:3.2px" width="5" height="7"><use href="#chr"/></svg>
<svg class="a" style="left:34.0px;top:2.0px" width="10" height="10"><use href="#clk"/></svg>
<div class="t" style="left:46.2px;top:1.1px">Core Critical Temperature</div>
<div class="v" style="left:255.5px;width:88.90px;top:1.4px">No</div>
<div class="v" style="left:348.6px;width:89.00px;top:1.4px">No</div>
<div class="v" style="left:441.8px;width:89.00px;top:1.4px">No</div>
<div class="gl" style="top:12.220px"></div>
</div>
<div class="r" style="top:626.080px;height:13.220px;overflow:hidden">
<svg class="a" style="left:21.6px;top:3.2px" width="5" height="7"><use href="#chr"/></svg>
<svg class="a" style="left:34.0px;top:2.0px" width="10" height="10"><use href="#clk"/></svg>
<div class="t" style="left:46.2px;top:1.1px">Core Power Limit Exceeded</div>
<div class="v" style="left:255.5px;width:88.90px;top:1.4px">No</div>
<div class="v" style="left:348.6px;width:89.00px;top:1.4px">No</div>
<div class="v" style="left:441.8px;width:89.00px;top:1.4px">No</div>
<div class="gl" style="top:12.220px"></div>
</div>
<div class="r" style="top:639.300px;height:13.220px;overflow:hidden">
<div class="a" style="left:32.5px;top:0;width:595.80px;height:13.220px;background:#efefef"></div>
<svg class="a" style="left:22.0px;top:2.0px" width="10" height="10"><use href="#clk"/></svg>
<div class="t" style="left:34.0px;top:1.1px">Package/Ring Thermal Throttling</div>
<div class="v" style="left:255.5px;width:88.90px;top:1.4px">No</div>
<div class="v" style="left:348.6px;width:89.00px;top:1.4px">No</div>
<div class="v red" style="left:441.8px;width:89.00px;top:1.4px">Yes</div>
<div class="gl" style="top:12.220px"></div>
</div>
<div class="r" style="top:652.520px;height:13.220px;overflow:hidden">
<svg class="a" style="left:22.0px;top:2.0px" width="10" height="10"><use href="#clk"/></svg>
<div class="t" style="left:34.0px;top:1.1px">Package/Ring Critical Temperature</div>
<div class="v" style="left:255.5px;width:88.90px;top:1.4px">No</div>
<div class="v" style="left:348.6px;width:89.00px;top:1.4px">No</div>
<div class="v" style="left:441.8px;width:89.00px;top:1.4px">No</div>
<div class="gl" style="top:12.220px"></div>
</div>
<div class="r" style="top:665.740px;height:13.220px;overflow:hidden">
<div class="a" style="left:32.5px;top:0;width:595.80px;height:13.220px;background:#efefef"></div>
<svg class="a" style="left:22.0px;top:2.0px" width="10" height="10"><use href="#clk"/></svg>
<div class="t" style="left:34.0px;top:1.1px">Package/Ring Power Limit Exceeded</div>
<div class="v" style="left:255.5px;width:88.90px;top:1.4px">No</div>
<div class="v" style="left:348.6px;width:89.00px;top:1.4px">No</div>
<div class="v" style="left:441.8px;width:89.00px;top:1.4px">No</div>
<div class="gl" style="top:12.220px"></div>
</div>
<div class="r" style="top:678.960px;height:13.220px;overflow:hidden">
<div class="gl" style="top:12.220px"></div>
</div>
<div class="r sec" style="top:692.180px;height:13.220px;overflow:hidden">
<div class="a" style="left:32px;top:0;width:596.30px;height:13.220px;background:#dcdcdc"></div>
<svg class="a" style="left:8.0px;top:4.0px" width="8" height="5"><use href="#chd"/></svg>
<svg class="a" style="left:22.2px;top:1.0px" width="9" height="10.2"><use href="#chip"/></svg>
<div class="t" style="left:35px;top:1.1px">CPU [#0]: Intel Core i9-14900K: Enhanced</div>
<div class="gl" style="top:12.220px"></div>
</div>
<div class="r" style="top:705.400px;height:13.220px;overflow:hidden">
<div class="a" style="left:256.0px;top:0;width:93.10px;height:13.220px;background:#cee4fa;z-index:2"></div>
<div class="a" style="left:256.0px;top:12.220px;width:93.10px;height:1px;background:#dcebfa;z-index:3"></div>
<svg class="a" style="left:23.0px;top:0.1px" width="6" height="12"><use href="#thm"/></svg>
<div class="t" style="left:34.0px;top:1.1px">CPU Package</div>
<div class="v" style="left:255.5px;width:88.90px;top:1.4px">57 °C</div>
<div class="v" style="left:348.6px;width:89.00px;top:1.4px">37 °C</div>
<div class="v red" style="left:441.8px;width:89.00px;top:1.4px">101 °C</div>
<div class="v" style="left:535.0px;width:89.10px;top:1.4px">62 °C</div>
<div class="gl" style="top:12.220px"></div>
</div>
<div class="r" style="top:718.620px;height:4.880px;overflow:hidden">
<div class="a" style="left:32.5px;top:0;width:595.80px;height:13.220px;background:#efefef"></div>
<div class="a" style="left:256.0px;top:0;width:93.10px;height:13.220px;background:#cee4fa;z-index:2"></div>
<div class="a" style="left:256.0px;top:12.220px;width:93.10px;height:1px;background:#dcebfa;z-index:3"></div>
<svg class="a" style="left:23.0px;top:0.1px" width="6" height="12"><use href="#thm"/></svg>
<div class="gl" style="top:12.220px"></div>
</div>
<div class="vg" style="left:255.50px;height:679.10px"></div>
<div class="vg" style="left:348.60px;height:679.10px"></div>
<div class="vg" style="left:441.80px;height:679.10px"></div>
<div class="vg" style="left:535.00px;height:679.10px"></div>
<div class="vg" style="left:628.30px;height:679.10px"></div>
<div class="a" style="left:657px;top:25px;width:13px;height:698.5px;background:#f0f0f0"></div>
<div class="a" style="left:662.8px;top:78px;width:1.6px;height:141.5px;background:#858585;border-radius:1px"></div>
<div class="a" style="left:0;top:0;width:1.2px;height:24px;background:#3c3c3c"></div>
<div class="a" style="left:0;top:24px;width:2px;height:744px;background:#92979b"></div>
<div class="a" style="left:669.5px;top:25px;width:1px;height:699px;background:#f8f8f8"></div>
<div class="a" style="left:670.3px;top:0;width:1.7px;height:768px;background:linear-gradient(90deg,#c4c4c4,#9a9a9a)"></div>
<div class="a" style="left:0;top:766.5px;width:672px;height:1.5px;background:#9a9a9a"></div>
<div class="a" style="left:3px;top:730.6px;width:30.0px;height:25.7px;background:#fcfcfc;border:1px solid #dadada;border-radius:3px"></div>
<div class="a" style="left:36.8px;top:731.1px;width:31.0px;height:25.0px;background:#f7f7f7;border:1px solid #e6e6e6;border-radius:3px"></div>
<svg class="a" style="left:5px;top:738px" width="26" height="12" viewBox="0 0 26 12"><path d="M0.6 6.2L5.6 0.7V3.6H11.3V8.6H5.6V11.2Z" fill="#2b8be0"/><path d="M25.1 6.2L19.9 0.7V3.6H14.1V8.6H19.9V11.2Z" fill="#2b8be0"/></svg>
<svg class="a" style="left:39px;top:738px" width="26" height="12" viewBox="0 0 26 12"><path d="M1 3.3H6.7V0.7L12.1 6L6.7 11.9V8.75H1Z" fill="#8fc6ef"/><path d="M23.3 3.3H17.4V0.7L12.1 6L17.4 11.9V8.75H23.3Z" fill="#8fc6ef"/></svg>
<div class="a" style="left:435.7px;top:730.4px;width:31.6px;height:25.7px;background:#fcfcfc;border:1px solid #dadada;border-radius:3px"></div>
<svg class="a" style="left:435px;top:728px" width="34" height="30" viewBox="435 728 34 30">
<defs><linearGradient id="sg" x1="0" y1="0" x2="1" y2="1"><stop offset="0" stop-color="#a8dcff"/><stop offset="0.35" stop-color="#2a8ae6"/><stop offset="1" stop-color="#0a4fa8"/></linearGradient></defs>
<path d="M451 738H459.5V743.5" fill="none" stroke="#c4c4c4" stroke-width="1.1"/>
<ellipse cx="446" cy="743.6" rx="3.8" ry="1.3" fill="#bdbdbd"/>
<path d="M445 741.2V743" stroke="#a8a8a8" stroke-width="1.4"/>
<path d="M440.5 732.3L451.7 733.4L450.7 741.9L439.4 740.6Z" fill="url(#sg)" stroke="#34506c" stroke-width="0.8"/>
<path d="M441 733L451 734L450.8 735.6C447 735.5 443.5 736.8 440.6 738.6Z" fill="#ffffff" fill-opacity="0.35"/>
<ellipse cx="457.5" cy="753.6" rx="3.8" ry="1.3" fill="#bdbdbd"/>
<path d="M456.8 751V753" stroke="#a8a8a8" stroke-width="1.4"/>
<path d="M452.5 743L463 744L462.2 751.6L451.2 750Z" fill="url(#sg)" stroke="#34506c" stroke-width="0.8"/>
<path d="M453 743.7L462.4 744.6L462.2 746C458.5 746 455 747 452.3 748.8Z" fill="#ffffff" fill-opacity="0.35"/>
</svg>
<div class="a" style="left:487.9px;top:736.1px;font-size:9.8px;line-height:12px;color:#000;white-space:nowrap;transform:scaleX(0.91);transform-origin:0 0">0:02:12</div>
<div class="a" style="left:522.4px;top:730.4px;width:31.1px;height:25.5px;background:#fcfcfc;border:1px solid #dadada;border-radius:3px"></div>
<svg class="a" style="left:524px;top:730px" width="29" height="28" viewBox="524 730 29 28">
<circle cx="538.2" cy="743.8" r="11.9" fill="#fff" stroke="#4a4a4a" stroke-width="0.9"/>
<path d="M538.20 735.40L538.20 732.20M546.60 743.80L549.80 743.80M538.20 752.20L538.20 755.40M529.80 743.80L526.60 743.80" stroke="#222" stroke-width="1.5"/><path d="M543.15 735.23L544.00 733.75M546.77 738.85L548.25 738.00M546.77 748.75L548.25 749.60M543.15 752.37L544.00 753.85M533.25 752.37L532.40 753.85M529.63 748.75L528.15 749.60M529.63 738.85L528.15 738.00M533.25 735.23L532.40 733.75" stroke="#333" stroke-width="1.0"/>
<path d="M539.3 734.2L538.2 743.8" fill="none" stroke="#111" stroke-width="1.4"/>
<path d="M538.2 743.8H543.9" stroke="#111" stroke-width="2"/>
</svg>
<div class="a" style="left:557.4px;top:730.4px;width:31.6px;height:25.6px;background:#fcfcfc;border:1px solid #dadada;border-radius:3px"></div>
<svg class="a" style="left:557px;top:728px" width="32" height="30" viewBox="557 728 32 30">
<path d="M564.3 732.2H578.2L581.8 735.8V753H564.3Z" fill="#f6f6f6" stroke="#b0b0b0" stroke-width="0.8"/>
<path d="M578.2 732.2V735.8H581.8" fill="#e4e4e4" stroke="#b0b0b0" stroke-width="0.6"/>
<path d="M567.5 736H578M567.5 739H578M567.5 742H578M567.5 745H578M567.5 748H575M570.5 735V750M573.5 735V750M576.5 736V746" stroke="#d2d2d2" stroke-width="0.7"/>
<path d="M578.4 743.5H582.1V747.2H585.8V750.9H582.1V754.2H578.4V750.9H574.9V747.2H578.4Z" fill="#9acd4e" stroke="#86ba3e" stroke-width="0.5"/>
</svg>
<div class="a" style="left:593.4px;top:730.4px;width:31.6px;height:25.6px;background:#fcfcfc;border:1px solid #dadada;border-radius:3px"></div>
<svg class="a" style="left:594px;top:729px" width="31" height="30" viewBox="594 729 31 30">
<defs><linearGradient id="gg" x1="0" y1="0" x2="1" y2="1"><stop offset="0" stop-color="#f4f4f4"/><stop offset="0.5" stop-color="#cfcfcf"/><stop offset="1" stop-color="#a8a8a8"/></linearGradient>
<linearGradient id="gg2" x1="1" y1="1" x2="0" y2="0"><stop offset="0" stop-color="#fafafa"/><stop offset="1" stop-color="#8a8a8a"/></linearGradient></defs>
<path d="M606.39 735.02L607.00 732.36L612.00 732.36L612.61 735.02L613.72 735.48L616.03 734.03L619.57 737.57L618.12 739.88L618.58 740.99L621.24 741.60L621.24 746.60L618.58 747.21L618.12 748.32L619.57 750.63L616.03 754.17L613.72 752.72L612.61 753.18L612.00 755.84L607.00 755.84L606.39 753.18L605.28 752.72L602.97 754.17L599.43 750.63L600.88 748.32L600.42 747.21L597.76 746.60L597.76 741.60L600.42 740.99L600.88 739.88L599.43 737.57L602.97 734.03L605.28 735.48Z" fill="url(#gg)" stroke="#a4a4a4" stroke-width="0.6"/>
<circle cx="609.5" cy="744.1" r="7" fill="url(#gg2)"/>
<circle cx="609.5" cy="744.1" r="4.2" fill="#ffffff" stroke="#8a8a8a" stroke-width="0.6"/>
</svg>
<div class="a" style="left:629.3px;top:730.3px;width:32.5px;height:26.0px;background:#fdfdfd;border:1.2px solid #3a7ec4;border-radius:3px"></div>
<svg class="a" style="left:634px;top:732px" width="24" height="23" viewBox="634 732 24 23">
<defs><linearGradient id="xg" gradientUnits="userSpaceOnUse" x1="637" y1="735" x2="654" y2="753"><stop offset="0" stop-color="#1a66b0"/><stop offset="0.5" stop-color="#3596da"/><stop offset="1" stop-color="#52b2ec"/></linearGradient></defs>
<path d="M638.9 737.0L652.1 750.7M652.1 737.0L638.9 750.7" stroke="url(#xg)" stroke-width="5.4"/>
</svg>
</div></body></html>
